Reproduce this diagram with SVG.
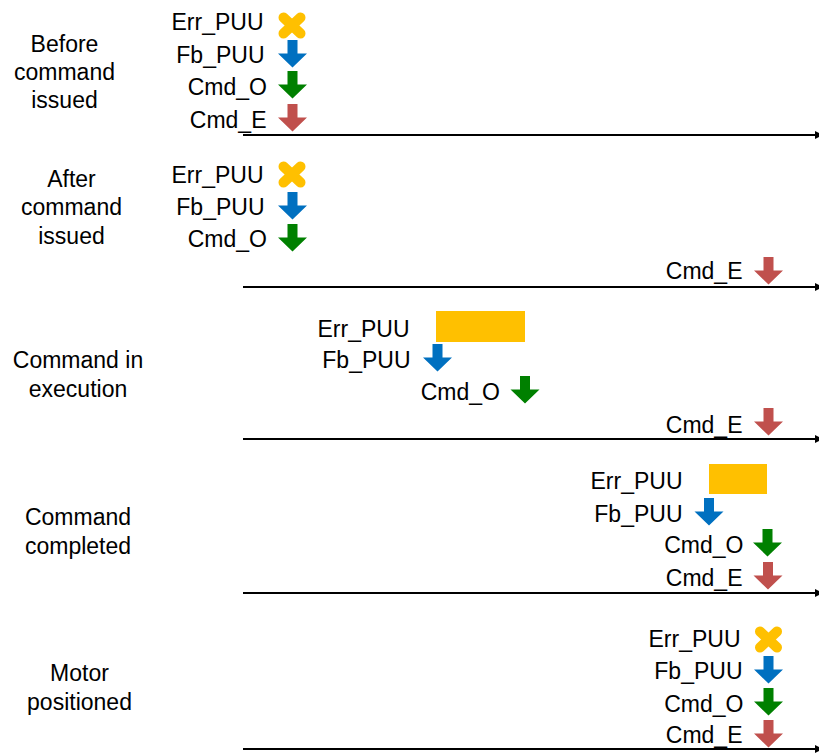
<svg xmlns="http://www.w3.org/2000/svg" width="819" height="753" viewBox="0 0 819 753">
<style>
text{font-family:"Liberation Sans",Arial,sans-serif;font-size:23px;fill:#000;text-anchor:end}
.lbl{text-anchor:middle}
.tl{stroke:#000;stroke-width:2;fill:none}
.x{stroke:#FFC000;stroke-width:10;stroke-linecap:round}
.bar{fill:#FFC000}
.b{fill:#0070C0}.g{fill:#008000}.r{fill:#C0504D}
</style>
<defs>
<path id="arr" d="M-5,0H5V13.5H14.5L0,27.5L-14.5,13.5H-5Z"/>
<g id="cross"><line x1="-8.5" y1="-8" x2="8.5" y2="8"/><line x1="-8.5" y1="8" x2="8.5" y2="-8"/></g>
<marker id="ah" markerWidth="8" markerHeight="10" refX="4" refY="5" orient="auto" markerUnits="userSpaceOnUse"><path d="M0,1L8,5L0,9Z" fill="#000"/></marker>
</defs>
<g id="connectors">
<line class="tl" x1="243" y1="135" x2="819" y2="135" marker-end="url(#ah)"/>
<line class="tl" x1="243" y1="287" x2="819" y2="287" marker-end="url(#ah)"/>
<line class="tl" x1="243" y1="439" x2="819" y2="439" marker-end="url(#ah)"/>
<line class="tl" x1="243" y1="593" x2="819" y2="593" marker-end="url(#ah)"/>
<line class="tl" x1="243" y1="749" x2="819" y2="749" marker-end="url(#ah)"/>
</g>
<g id="before">
<text class="lbl" x="64.5" y="52">Before</text>
<text class="lbl" x="64.5" y="80">command</text>
<text class="lbl" x="64.5" y="108">issued</text>
<text x="263.5" y="30">Err_PUU</text>
<text x="264.5" y="63">Fb_PUU</text>
<text x="267" y="95">Cmd_O</text>
<text x="266.5" y="128">Cmd_E</text>
<use href="#cross" class="x" x="292" y="25.5"/>
<use href="#arr" class="b" x="292.5" y="40"/>
<use href="#arr" class="g" x="292.5" y="71"/>
<use href="#arr" class="r" x="292.5" y="104"/>
</g>
<g id="after">
<text class="lbl" x="71.5" y="187">After</text>
<text class="lbl" x="71.5" y="215">command</text>
<text class="lbl" x="71.5" y="244">issued</text>
<text x="263.5" y="183">Err_PUU</text>
<text x="264.5" y="215">Fb_PUU</text>
<text x="267" y="247">Cmd_O</text>
<text x="742.5" y="279">Cmd_E</text>
<use href="#cross" class="x" x="292" y="174.5"/>
<use href="#arr" class="b" x="292.5" y="192"/>
<use href="#arr" class="g" x="292.5" y="224"/>
<use href="#arr" class="r" x="768.5" y="257"/>
</g>
<g id="execution">
<text class="lbl" x="78" y="368">Command in</text>
<text class="lbl" x="78" y="397">execution</text>
<text x="409.5" y="337">Err_PUU</text>
<text x="410.5" y="368">Fb_PUU</text>
<text x="500" y="400">Cmd_O</text>
<text x="742.5" y="433">Cmd_E</text>
<rect class="bar" x="436" y="311" width="89" height="31"/>
<use href="#arr" class="b" x="437.5" y="344"/>
<use href="#arr" class="g" x="525" y="376"/>
<use href="#arr" class="r" x="768.5" y="408"/>
</g>
<g id="completed">
<text class="lbl" x="78" y="525">Command</text>
<text class="lbl" x="78" y="554">completed</text>
<text x="682.5" y="489">Err_PUU</text>
<text x="682.5" y="522">Fb_PUU</text>
<text x="743.5" y="553">Cmd_O</text>
<text x="742.5" y="586">Cmd_E</text>
<rect class="bar" x="709" y="464" width="58" height="30"/>
<use href="#arr" class="b" x="709" y="498"/>
<use href="#arr" class="g" x="767.5" y="529"/>
<use href="#arr" class="r" x="768" y="562"/>
</g>
<g id="positioned">
<text class="lbl" x="79.5" y="681">Motor</text>
<text class="lbl" x="79.5" y="710">positioned</text>
<text x="740.5" y="647">Err_PUU</text>
<text x="742.5" y="679">Fb_PUU</text>
<text x="743.5" y="712">Cmd_O</text>
<text x="742.5" y="743">Cmd_E</text>
<use href="#cross" class="x" x="768.5" y="639.5"/>
<use href="#arr" class="b" x="768.5" y="656"/>
<use href="#arr" class="g" x="768.5" y="688"/>
<use href="#arr" class="r" x="768.5" y="720"/>
</g>
</svg>
